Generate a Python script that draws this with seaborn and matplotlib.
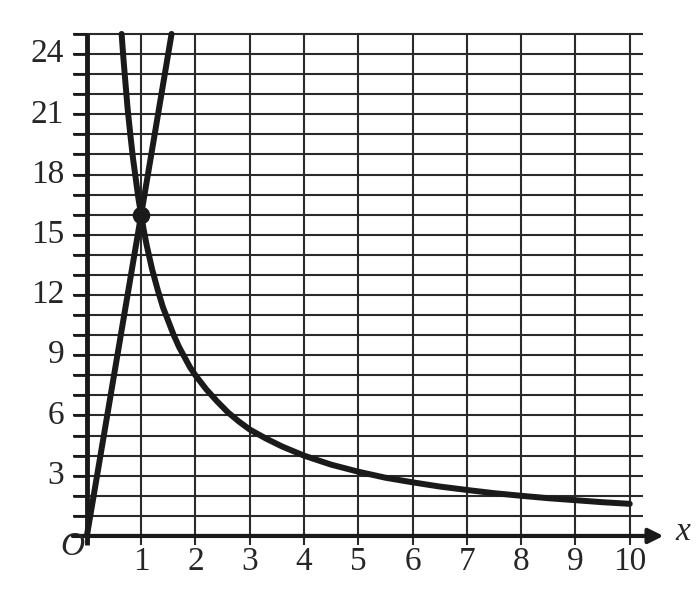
import numpy as np
import pandas as pd
import seaborn as sns
import matplotlib.pyplot as plt

# values
hyp_x = [0.64, 0.67, 0.7, 0.75, 0.8, 0.85, 0.9, 0.95, 1.0, 1.05, 1.1, 1.15, 1.2, 1.3, 1.4,
         1.5, 1.6, 1.7, 1.8, 1.9, 2.0, 2.2, 2.4, 2.6, 2.8, 3.0, 3.3, 3.6, 4.0, 4.5, 5.0,
         5.5, 6.0, 6.5, 7.0, 7.5, 8.0, 8.5, 9.0, 9.5, 10.0]
hyp_y = [25.0, 23.9, 22.9, 21.3, 20.0, 18.8, 17.8, 16.8, 16.0, 15.2, 14.5, 13.9, 13.3, 12.3, 11.4,
         10.7, 10.0, 9.4, 8.9, 8.4, 8.0, 7.3, 6.7, 6.15, 5.7, 5.3, 4.85, 4.45, 4.0, 3.55, 3.2,
         2.9, 2.67, 2.46, 2.29, 2.13, 2.0, 1.88, 1.78, 1.68, 1.6]
line_x = [0.0, 1.0, 1.56]
line_y = [0.0, 16.0, 25.0]
pt_x = [1.0]
pt_y = [16.0]

x_ticks = list(range(1, 11))
y_ticks = [3, 6, 9, 12, 15, 18, 21, 24]
y_grid = list(range(1, 26))

sns.set_theme(style="white")
plt.rcParams['font.family'] = ['Liberation Serif', 'DejaVu Serif']

fig = plt.figure(figsize=(6.96, 5.98), dpi=100)
ax = fig.add_axes([0, 0, 1, 1])
ax.axis('off')

# grid
ax.hlines(y_grid, -0.26, 10.24, color='#2a2a2a', lw=1.5, zorder=1)
ax.vlines(x_ticks, -0.45, 25, color='#2a2a2a', lw=1.5, zorder=1)
ax.hlines(y_grid, -0.26, 0, color='k', lw=2.0, zorder=2)

# axes
ax.vlines(0, -0.45, 25, color='k', lw=3.5, zorder=3)
ax.annotate('', xy=(10.62, 0), xytext=(-0.26, 0),
            arrowprops=dict(arrowstyle='-|>', lw=3, color='k',
                            mutation_scale=22, shrinkA=0, shrinkB=0), zorder=3)

# curves
df_h = pd.DataFrame({'x': hyp_x, 'y': hyp_y})
df_l = pd.DataFrame({'x': line_x, 'y': line_y})
sns.lineplot(data=df_h, x='x', y='y', ax=ax, color='k', lw=4.3, sort=False, zorder=4)
sns.lineplot(data=df_l, x='x', y='y', ax=ax, color='k', lw=4.3, sort=False, zorder=4)
sns.scatterplot(x=pt_x, y=pt_y, ax=ax, color='k', s=160, zorder=5, linewidth=0)
ax.set_xlim(-1.60, 11.22)
ax.set_ylim(-3.09, 26.69)

# labels
for v in y_ticks:
    ax.text(-0.42, v, str(v), ha='right', va='center', fontsize=24)
for v in x_ticks:
    ax.text(v, -0.55, str(v), ha='center', va='top', fontsize=24)
ax.text(-0.27, -0.55, 'O', ha='center', va='center', fontsize=24, style='italic')
ax.text(10.97, 0.2, 'x', ha='center', va='center', fontsize=24, style='italic')

fig.savefig('out.png', dpi=100)
